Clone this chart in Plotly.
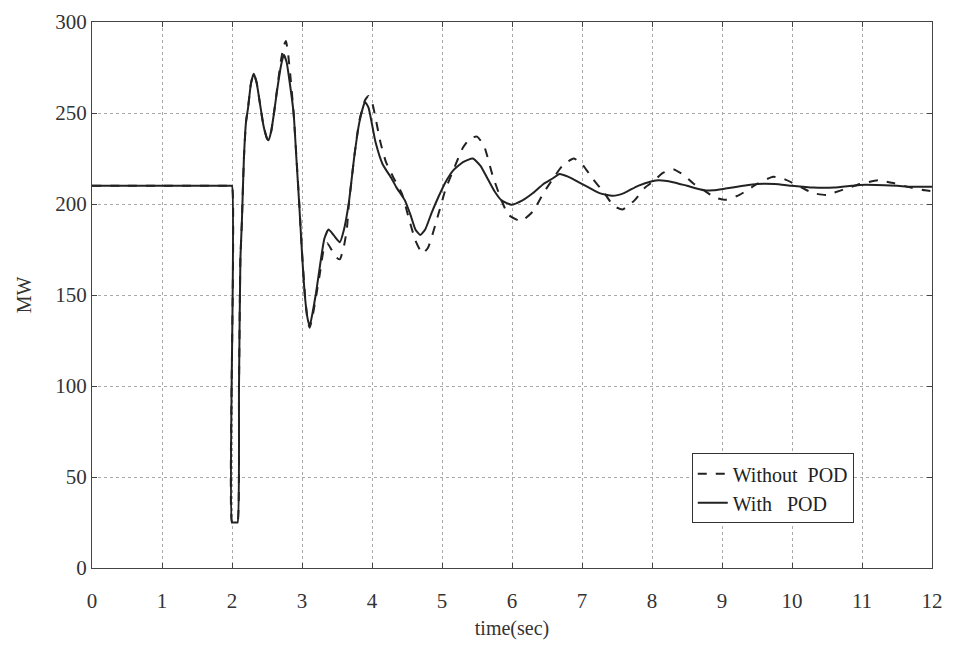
import plotly.graph_objects as go

# "With POD" (solid)
t_with = [0, 0.5, 1.0, 1.5, 1.9, 1.97, 2.0, 2.0, 2.03, 2.06, 2.08, 2.10, 2.12, 2.14, 2.17, 2.20, 2.23, 2.27, 2.31, 2.35, 2.40, 2.45, 2.50, 2.52,
          2.56, 2.60, 2.65, 2.70, 2.74, 2.78, 2.82, 2.88, 2.92, 2.96, 3.00, 3.04, 3.08, 3.11, 3.15, 3.20,
          3.26, 3.32, 3.38, 3.45, 3.54, 3.60, 3.67, 3.75, 3.82, 3.90, 3.95, 4.05, 4.15, 4.28, 4.35, 4.47,
          4.55, 4.62, 4.69, 4.76, 4.85, 4.95, 5.05, 5.16, 5.30, 5.44, 5.55, 5.65, 5.75, 5.85, 5.99, 6.15,
          6.30, 6.45, 6.58, 6.68, 6.80, 6.95, 7.10, 7.25, 7.44, 7.60, 7.80, 8.00, 8.10, 8.30, 8.50, 8.74,
          8.88, 9.05, 9.30, 9.50, 9.75, 10.0, 10.3, 10.6, 10.97, 11.2, 11.5, 11.7, 12.0]
mw_with = [210, 210, 210, 210, 210, 210, 210, 25, 25, 25, 25, 100, 170, 189, 225, 245, 253, 266, 271.5, 267, 255, 243, 236, 235,
           240, 250, 264, 276, 282, 278, 268, 250, 225, 200, 173, 150, 137, 133, 140, 151,
           167, 181, 186, 183, 179, 186, 201, 227, 245, 256, 253, 234, 222, 214, 209, 202,
           194, 186, 183, 186, 195, 204, 212, 218.5, 223, 225, 221, 214, 207, 202, 199.6, 202,
           206, 211, 214, 216.5, 215, 212, 209, 206, 204.5, 206, 210, 212.5, 213, 212, 210, 207.6,
           207.5, 208.5, 210, 211, 211, 210, 209, 209, 210.5, 210.5, 210, 209.5, 209.5]

# "Without POD" (dashed)
t_without = [0, 0.5, 1.0, 1.5, 1.9, 1.97, 2.0, 2.0, 2.03, 2.06, 2.08, 2.10, 2.12, 2.14, 2.17, 2.20, 2.23, 2.27, 2.31, 2.35, 2.40, 2.45, 2.50, 2.52,
             2.56, 2.60, 2.65, 2.70, 2.74, 2.77, 2.80, 2.84, 2.88, 2.92, 2.96, 3.00, 3.04, 3.08, 3.11, 3.15,
             3.20, 3.26, 3.31, 3.36, 3.42, 3.48, 3.54, 3.60, 3.64, 3.67, 3.75, 3.82, 3.90, 3.95, 4.00, 4.12,
             4.20, 4.30, 4.43, 4.52, 4.62, 4.72, 4.80, 4.95, 5.05, 5.16, 5.30, 5.40, 5.50, 5.60, 5.72, 5.85,
             5.95, 6.13, 6.30, 6.45, 6.58, 6.72, 6.88, 7.00, 7.15, 7.32, 7.45, 7.58, 7.75, 7.90, 8.03, 8.15,
             8.31, 8.45, 8.60, 8.74, 8.90, 9.05, 9.25, 9.50, 9.73, 9.90, 10.14, 10.30, 10.49, 10.70, 10.97,
             11.23, 11.45, 11.70, 11.90, 12.0]
mw_without = [210, 210, 210, 210, 210, 210, 210, 25, 25, 25, 25, 100, 170, 189, 225, 245, 253, 266, 271.5, 267, 255, 243, 236, 235,
              240, 250, 265, 279, 287, 289.5, 283, 268, 250, 226, 201, 174, 151, 136, 132, 138,
              149, 163, 175, 178.5, 175, 171, 169.6, 177, 186, 200, 227, 246, 257, 259.4, 256, 234,
              223, 215, 205.4, 193, 180, 172.8, 176, 194.6, 208, 218.5, 231, 236, 237, 232, 216, 202,
              194, 190.6, 196, 206, 213.6, 221, 225, 222, 214, 206, 199, 197, 202, 209, 212.7, 217,
              219, 216, 211, 207.6, 203.5, 202.3, 205, 211, 215, 213.5, 209, 206, 205, 207.5, 211,
              213, 211.5, 209, 207.5, 207]

x_ticks = list(range(0, 13))
y_ticks = [0, 50, 100, 150, 200, 250, 300]

font_family = "Liberation Serif, Times New Roman, serif"

fig = go.Figure()
fig.add_trace(go.Scatter(x=t_without, y=mw_without, mode="lines", name="Without  POD",
                         line=dict(color="#222222", width=2, dash="dash", shape="spline", smoothing=0.5)))
fig.add_trace(go.Scatter(x=t_with, y=mw_with, mode="lines", name="With   POD",
                         line=dict(color="#222222", width=2, shape="spline", smoothing=0.5)))

axis_common = dict(showline=True, linecolor="#444444", linewidth=1, mirror="ticks",
                   ticks="inside", ticklen=5, tickcolor="#444444",
                   showgrid=True, gridcolor="#aaaaaa", griddash="dot", gridwidth=1,
                   zeroline=False, ticklabeloverflow="allow",
                   tickfont=dict(family=font_family, size=21, color="#333333"))

fig.update_layout(
    width=953, height=646,
    margin=dict(l=92, r=10, t=12, b=78),
    paper_bgcolor="white", plot_bgcolor="white",
    font=dict(family=font_family, color="#333333"),
    xaxis=dict(range=[0, 12], tickvals=x_ticks, ticktext=[str(v) for v in x_ticks],
               ticklabelstandoff=14,
               title=dict(text="time(sec)", font=dict(family=font_family, size=20), standoff=8),
               **axis_common),
    yaxis=dict(range=[0, 300], tickvals=y_ticks, ticktext=[str(v) for v in y_ticks],
               title=dict(text="MW", font=dict(family=font_family, size=20), standoff=18),
               **axis_common),
    legend=dict(x=0.714, y=0.21, xanchor="left", yanchor="top",
                bgcolor="white", bordercolor="#333333", borderwidth=1,
                font=dict(family=font_family, size=20, color="#222222"),
                tracegroupgap=0),
    showlegend=True,
)

fig.write_html("out.html")
